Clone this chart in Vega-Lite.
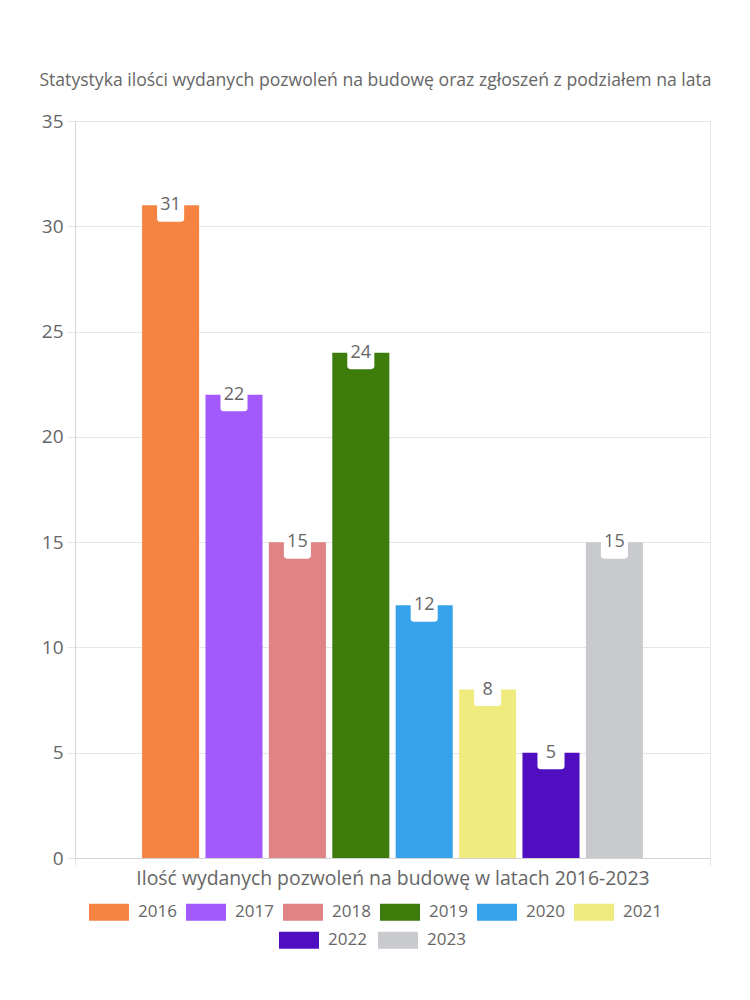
{
  "$schema": "https://vega.github.io/schema/vega-lite/v6.json",
  "width": 635,
  "height": 737,
  "autosize": {"type": "none"},
  "padding": {"left": 75, "top": 121, "right": 40, "bottom": 142},
  "background": "white",
  "config": {
    "font": "Open Sans",
    "view": {"stroke": null},
    "axis": {"labelColor": "#666666", "labelFont": "Open Sans", "labelFontSize": 19, "gridColor": "#e6e6e6", "tickColor": "#e6e6e6", "domainColor": "#d4d4d4", "tickSize": 8, "title": null}
  },
  "title": {
    "text": "Statystyka ilości wydanych pozwoleń na budowę oraz zgłoszeń z podziałem na lata",
    "font": "Open Sans",
    "fontSize": 17.6,
    "fontWeight": "normal",
    "color": "#666666",
    "anchor": "middle",
    "frame": "group",
    "dx": -17,
    "offset": 22
  },
  "data": {
    "values": [
      {"cat": "Ilość wydanych pozwoleń na budowę w latach 2016-2023", "year": "2016", "value": 31},
      {"cat": "Ilość wydanych pozwoleń na budowę w latach 2016-2023", "year": "2017", "value": 22},
      {"cat": "Ilość wydanych pozwoleń na budowę w latach 2016-2023", "year": "2018", "value": 15},
      {"cat": "Ilość wydanych pozwoleń na budowę w latach 2016-2023", "year": "2019", "value": 24},
      {"cat": "Ilość wydanych pozwoleń na budowę w latach 2016-2023", "year": "2020", "value": 12},
      {"cat": "Ilość wydanych pozwoleń na budowę w latach 2016-2023", "year": "2021", "value": 8},
      {"cat": "Ilość wydanych pozwoleń na budowę w latach 2016-2023", "year": "2022", "value": 5},
      {"cat": "Ilość wydanych pozwoleń na budowę w latach 2016-2023", "year": "2023", "value": 15}
    ]
  },
  "encoding": {
    "x": {
      "field": "cat",
      "type": "nominal",
      "scale": {"paddingInner": 0, "paddingOuter": 0},
      "axis": {"labelAngle": 0, "tickBand": "extent", "grid": true, "labelLimit": 0, "labelPadding": 3, "labelFontSize": 19.4}
    },
    "xOffset": {
      "field": "year",
      "type": "nominal",
      "scale": {"domain": ["pad-start", "2016", "2017", "2018", "2019", "2020", "2021", "2022", "2023", "pad-end"], "paddingInner": 0.1, "paddingOuter": 0.058}
    },
    "y": {
      "field": "value",
      "type": "quantitative",
      "scale": {"domain": [0, 35], "nice": false},
      "axis": {"values": [0, 5, 10, 15, 20, 25, 30, 35], "labelPadding": 4}
    }
  },
  "layer": [
    {
      "transform": [{"filter": {"field": "year", "oneOf": ["2016", "2017", "2018", "2019", "2020", "2021"]}}],
      "mark": {"type": "bar"},
      "encoding": {
        "color": {
          "field": "year",
          "type": "nominal",
          "scale": {"domain": ["2016", "2017", "2018", "2019", "2020", "2021"], "range": ["#F58342", "#A259FE", "#E08385", "#3E7C0C", "#36A2EB", "#F0EB7F"]},
          "legend": {"orient": "none", "legendX": 14, "legendY": 771, "direction": "horizontal", "columns": 6, "title": null, "padding": 0, "symbolType": "M-1,-0.425L1,-0.425L1,0.425L-1,0.425Z", "symbolSize": 1600, "symbolStrokeWidth": 0, "labelFontSize": 17, "labelColor": "#666666", "labelFont": "Open Sans", "labelOffset": 9, "columnPadding": 9}
        }
      }
    },
    {
      "transform": [{"filter": {"field": "year", "oneOf": ["2022", "2023"]}}],
      "mark": {"type": "bar"},
      "encoding": {
        "color": {
          "field": "year",
          "type": "nominal",
          "scale": {"domain": ["2022", "2023"], "range": ["#500EC1", "#C9CACE"]},
          "legend": {"orient": "none", "legendX": 204, "legendY": 799, "direction": "horizontal", "columns": 2, "title": null, "padding": 0, "symbolType": "M-1,-0.425L1,-0.425L1,0.425L-1,0.425Z", "symbolSize": 1600, "symbolStrokeWidth": 0, "labelFontSize": 17, "labelColor": "#666666", "labelFont": "Open Sans", "labelOffset": 9, "columnPadding": 11}
        }
      }
    },
    {
      "mark": {"type": "point", "shape": "M-0.82,-1L0.82,-1L0.82,0.8Q0.82,1 0.62,1L-0.62,1Q-0.82,1 -0.82,0.8Z", "filled": true, "color": "white", "opacity": 1, "size": 1089, "strokeWidth": 0}
    },
    {
      "mark": {"type": "text", "baseline": "middle", "fontSize": 18, "color": "#666666", "font": "Open Sans", "dy": 0},
      "encoding": {"text": {"field": "value", "type": "quantitative"}}
    }
  ],
  "resolve": {"scale": {"color": "independent"}}
}
